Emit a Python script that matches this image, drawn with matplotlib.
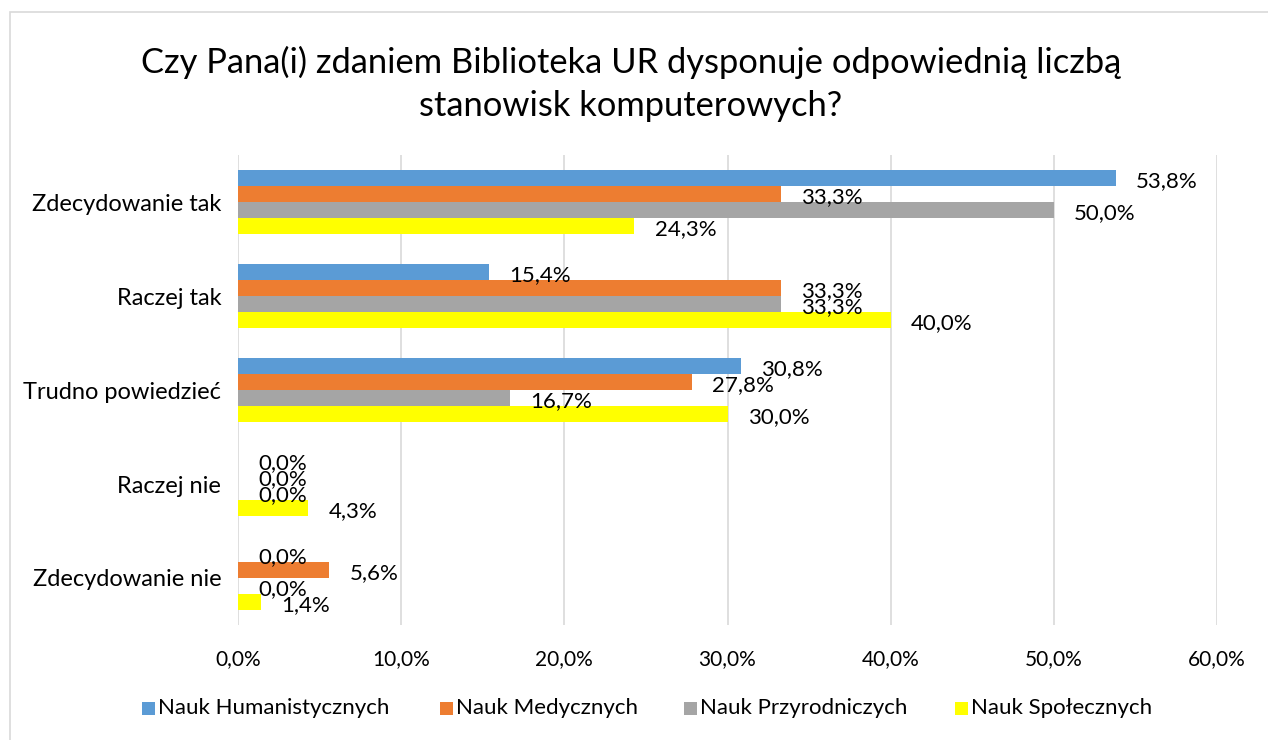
import matplotlib
matplotlib.use("Agg")
import matplotlib.pyplot as plt
from matplotlib.patches import Rectangle
from matplotlib.ticker import FuncFormatter
import numpy as np

plt.rcParams['font.family'] = ['Lato', 'DejaVu Sans']

categories = ["Zdecydowanie tak", "Raczej tak", "Trudno powiedzieć", "Raczej nie", "Zdecydowanie nie"]
series_names = ["Nauk Humanistycznych", "Nauk Medycznych", "Nauk Przyrodniczych", "Nauk Społecznych"]
humanistycznych = [53.8, 15.4, 30.8, 0.0, 0.0]
medycznych = [33.3, 33.3, 27.8, 0.0, 5.6]
przyrodniczych = [50.0, 33.3, 16.7, 0.0, 0.0]
spolecznych = [24.3, 40.0, 30.0, 4.3, 1.4]
colors = ["#5B9BD5", "#ED7D31", "#A5A5A5", "#FFFF00"]
title = "Czy Pana(i) zdaniem Biblioteka UR dysponuje odpowiednią liczbą\nstanowisk komputerowych?"

series = [humanistycznych, medycznych, przyrodniczych, spolecznych]

W, H = 1268, 740
fig = plt.figure(figsize=(W / 100, H / 100), dpi=100)
fig.patches.append(Rectangle((10 / W, -0.01), 1.02, 1 - 12 / H + 0.01, transform=fig.transFigure,
                             fill=False, edgecolor="#d9d9d9", linewidth=1.2))

ax = fig.add_axes([238 / W, 1 - 625 / H, (1217 - 238) / W, (625 - 155) / H])

n = len(series)
bh = 0.17
y = np.arange(len(categories))
for i, (vals, c) in enumerate(zip(series, colors)):
    pos = y + (i - (n - 1) / 2) * bh
    ax.barh(pos, [v / 100 for v in vals], height=bh, color=c, zorder=2)
    for p, v in zip(pos, vals):
        ax.annotate(f"{v:.1f}%".replace(".", ","), (v / 100, p), xytext=(14.5, -2),
                    textcoords="offset points", va="center", ha="left",
                    fontsize=16, color="#000000", zorder=3)

ax.set_xlim(0, 0.6)
ax.set_ylim(len(categories) - 0.5, -0.5)
ax.set_xticks(np.arange(0, 0.61, 0.1))
ax.xaxis.set_major_formatter(FuncFormatter(lambda x, _: f"{x * 100:.1f}%".replace(".", ",")))
ax.set_yticks(y)
ax.set_yticklabels(categories)
ax.tick_params(axis="x", length=0, labelsize=15, labelcolor="#000000", pad=17)
ax.tick_params(axis="y", length=0, labelsize=17, labelcolor="#000000", pad=12)
ax.grid(axis="x", color="#d9d9d9", linewidth=1.2, zorder=0)
ax.set_axisbelow(True)
for s in ax.spines.values():
    s.set_visible(False)

fig.text(0.4975, 1 - 84 / H, title, ha="center", va="center", fontsize=24.8, linespacing=1.4)

# legend entries placed manually
leg_x = [142, 440, 684, 955]
leg_y = 708
for lx, name, c in zip(leg_x, series_names, colors):
    fig.patches.append(Rectangle((lx / W, 1 - (leg_y + 7) / H), 13 / W, 13 / H,
                                 transform=fig.transFigure, facecolor=c, edgecolor="none"))
    fig.text((lx + 16) / W, 1 - leg_y / H, name, ha="left", va="center", fontsize=16)

fig.savefig("out.png", dpi=100)
